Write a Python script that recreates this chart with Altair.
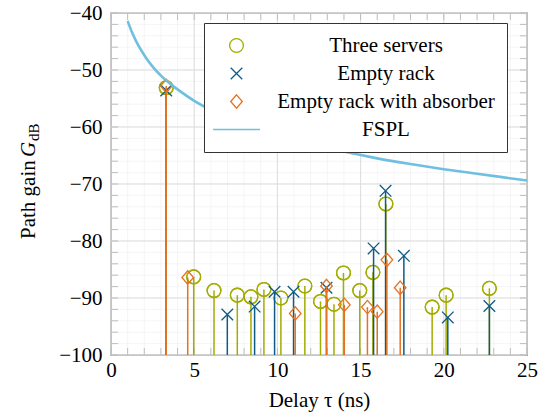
import altair as alt
import pandas as pd

# ---------------- data ----------------
series_names = ["Three servers", "Empty rack", "Empty rack with absorber", "FSPL"]

tau_three = [3.32, 4.97, 6.19, 7.59, 8.41, 9.19, 10.21, 11.65, 12.59, 13.40, 13.97, 14.95, 15.74, 16.52, 19.30, 20.14, 22.74]
gain_three = [-53.1, -86.3, -88.7, -89.5, -89.8, -88.5, -90.0, -87.9, -90.6, -91.1, -85.6, -88.7, -85.5, -73.5, -91.6, -89.5, -88.3]

tau_empty = [3.32, 6.99, 8.63, 9.83, 10.97, 12.95, 15.78, 16.50, 17.60, 20.24, 22.74]
gain_empty = [-53.6, -92.9, -91.5, -88.9, -88.9, -88.2, -81.3, -71.2, -82.6, -93.4, -91.4]

tau_absorb = [3.32, 4.61, 11.07, 12.95, 14.02, 15.41, 16.00, 16.58, 17.38]
gain_absorb = [-52.8, -86.4, -92.7, -87.9, -91.2, -91.6, -92.4, -83.3, -88.2]

tau_fspl = [1, 1.25, 1.5, 2, 2.5, 3, 3.5, 4, 5, 6, 7, 8, 9, 10, 12, 14, 16, 18, 20, 22, 25]
gain_fspl = [-41.4, -43.3, -44.9, -47.4, -49.4, -51.0, -52.3, -53.4, -55.4, -57.0, -58.3, -59.5,
             -60.5, -61.4, -63.0, -64.3, -65.5, -66.5, -67.4, -68.2, -69.4]

x_major = [0, 5, 10, 15, 20, 25]
y_major = [-100, -90, -80, -70, -60, -50, -40]
x_minor = list(range(0, 26))
y_minor = list(range(-100, -39, 2))

colors = ["#a2ad00", "#0f5b87", "#e37222", "#6fbfe0"]
shapes = [
    "circle",
    "M-0.84,-0.84L0.84,0.84M-0.84,0.84L0.84,-0.84",
    "M0,-0.97L0.84,0L0,0.97L-0.84,0Z",
    "M-3.4,0L3.4,0",
]
stroke_widths = [1.3, 1.3, 1.3, 2.6]

# ---------------- frames ----------------
def frame(taus, gains, name):
    return pd.DataFrame({"tau": taus, "gain": gains, "series": name})

df_three = frame(tau_three, gain_three, series_names[0])
df_empty = frame(tau_empty, gain_empty, series_names[1])
df_absorb = frame(tau_absorb, gain_absorb, series_names[2])
df_fspl = frame(tau_fspl, gain_fspl, series_names[3])

W, H = 416, 342
FONT = "Liberation Serif"
FS = 21

xscale = alt.Scale(domain=[0, 25], nice=False, zero=False)
yscale = alt.Scale(domain=[-100, -40], nice=False, zero=False)

legend = alt.Legend(
    title=None,
    orient="none",
    legendX=93,
    legendY=10,
    direction="vertical",
    fillColor="white",
    strokeColor="#333333",
    padding=12,
    labelFont=FONT,
    labelFontSize=FS,
    labelColor="black",
    labelAlign="center",
    labelOffset=139,
    symbolSize=190,
    symbolOffset=10,
    symbolFillColor="transparent",
    rowPadding=6,
    labelLimit=400,
)

color_enc = alt.Color("series:N", scale=alt.Scale(domain=series_names, range=colors), legend=legend)
shape_enc = alt.Shape("series:N", scale=alt.Scale(domain=series_names, range=shapes), legend=legend)
sw_enc = alt.StrokeWidth("series:N", scale=alt.Scale(domain=series_names, range=stroke_widths), legend=legend)

x_axis = alt.Axis(
    values=x_major, format="d", grid=False, ticks=False, domain=False, labelFlush=False,
    labelFont=FONT, labelFontSize=FS, labelColor="black", labelPadding=4,
    title="Delay τ (ns)", titleFont=FONT, titleFontSize=FS, titleFontWeight="normal",
    titleColor="black", titlePadding=9,
)
y_axis = alt.Axis(
    values=y_major, format="d", grid=False, ticks=False, domain=False, labelFlush=False,
    labelFont=FONT, labelFontSize=FS, labelColor="black", labelPadding=9, title=None,
)

# grid
minor_x_df = pd.DataFrame({"v": x_minor})
minor_y_df = pd.DataFrame({"v": y_minor})
major_x_df = pd.DataFrame({"v": x_major})
major_y_df = pd.DataFrame({"v": y_major})

grid_minor_x = alt.Chart(minor_x_df).mark_rule(color="#f2f2f2", strokeWidth=0.8).encode(
    x=alt.X("v:Q", scale=xscale, axis=x_axis))
grid_minor_y = alt.Chart(minor_y_df).mark_rule(color="#f2f2f2", strokeWidth=0.8).encode(
    y=alt.Y("v:Q", scale=yscale, axis=y_axis))
grid_major_x = alt.Chart(major_x_df).mark_rule(color="#dddddd", strokeWidth=1).encode(
    x=alt.X("v:Q", scale=xscale))
grid_major_y = alt.Chart(major_y_df).mark_rule(color="#dddddd", strokeWidth=1).encode(
    y=alt.Y("v:Q", scale=yscale))

TICK = 7
tick_color = "#bdbdbd"
ticks_bottom = alt.Chart(minor_x_df).mark_rule(color=tick_color, strokeWidth=1).encode(
    x=alt.X("v:Q", scale=xscale), y=alt.value(H), y2=alt.value(H - TICK))
ticks_top = alt.Chart(minor_x_df).mark_rule(color=tick_color, strokeWidth=1).encode(
    x=alt.X("v:Q", scale=xscale), y=alt.value(0), y2=alt.value(TICK))
ticks_left = alt.Chart(minor_y_df).mark_rule(color=tick_color, strokeWidth=1).encode(
    y=alt.Y("v:Q", scale=yscale), x=alt.value(0), x2=alt.value(TICK))
ticks_right = alt.Chart(minor_y_df).mark_rule(color=tick_color, strokeWidth=1).encode(
    y=alt.Y("v:Q", scale=yscale), x=alt.value(W), x2=alt.value(W - TICK))


def stems(df):
    return alt.Chart(df).mark_rule(strokeWidth=1.5).encode(
        x=alt.X("tau:Q", scale=xscale),
        y=alt.Y("gain:Q", scale=yscale),
        y2=alt.datum(-100),
        color=color_enc,
    )


def markers(df):
    return alt.Chart(df).mark_point(filled=False, size=190, opacity=1).encode(
        x=alt.X("tau:Q", scale=xscale),
        y=alt.Y("gain:Q", scale=yscale),
        color=color_enc,
        shape=shape_enc,
        strokeWidth=sw_enc,
    )


fspl = alt.Chart(df_fspl).mark_line(interpolate="monotone", strokeWidth=2.6).encode(
    x=alt.X("tau:Q", scale=xscale),
    y=alt.Y("gain:Q", scale=yscale),
    color=color_enc,
)

# y-axis title with italic G and subscript dB
title_df = pd.DataFrame({"t": ["Path gain"]})
yt1 = alt.Chart(title_df).mark_text(angle=270, align="left", baseline="middle", font=FONT,
                                    fontSize=FS, color="black").encode(
    text=alt.value("Path gain"), x=alt.value(-82), y=alt.value(226))
yt2 = alt.Chart(title_df).mark_text(angle=270, align="left", baseline="middle", font=FONT,
                                    fontSize=FS, fontStyle="italic", color="black").encode(
    text=alt.value("G"), x=alt.value(-82), y=alt.value(144))
yt3 = alt.Chart(title_df).mark_text(angle=270, align="left", baseline="middle", font=FONT,
                                    fontSize=15, color="black").encode(
    text=alt.value("dB"), x=alt.value(-77), y=alt.value(128))

chart = alt.layer(
    grid_minor_x, grid_minor_y, grid_major_x, grid_major_y,
    ticks_bottom, ticks_top, ticks_left, ticks_right,
    markers(df_three), stems(df_three), markers(df_three),
    stems(df_empty), markers(df_empty),
    stems(df_absorb), markers(df_absorb),
    fspl,
    yt1, yt2, yt3,
).properties(
    width=W, height=H,
    autosize=alt.AutoSizeParams(type="none"),
    padding={"left": 111, "top": 13, "right": 21, "bottom": 60},
).configure(
    font=FONT
).configure_axis(
    labelFont=FONT, titleFont=FONT
).configure_text(
    font=FONT
).configure_view(
    stroke="#555555", strokeWidth=1.4
).configure_legend(
    symbolFillColor="transparent", symbolBaseFillColor="transparent", labelFont=FONT
)

chart.save("out.html", embed_options={"renderer": "svg", "actions": False})
